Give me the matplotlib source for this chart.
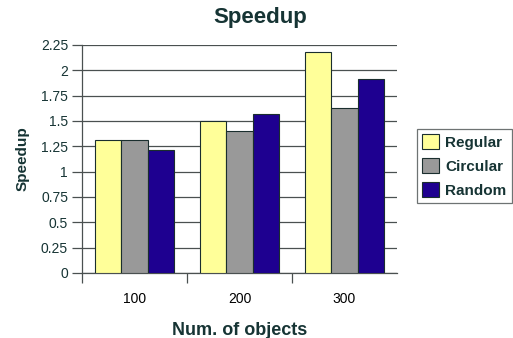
import matplotlib.pyplot as plt
import numpy as np
from matplotlib.ticker import FuncFormatter

categories = ['100', '200', '300']
regular = [1.31, 1.50, 2.18]
circular = [1.31, 1.40, 1.63]
random_ = [1.21, 1.57, 1.91]
series_names = ['Regular', 'Circular', 'Random']
colors = ['#ffff99', '#999999', '#1e0090']

plt.rcParams['font.family'] = ['Liberation Sans', 'DejaVu Sans']
txt = '#163434'
line = '#4a5050'

fig = plt.figure(figsize=(5.13, 3.38), dpi=100)
ax = fig.add_axes([82/513, 1-273/338, 315/513, 228/338])

x = np.arange(len(categories))
w = 0.25
for i, (vals, name, c) in enumerate(zip([regular, circular, random_], series_names, colors)):
    ax.bar(x + (i - 1) * w, vals, w, color=c, edgecolor='#1a2e2e', linewidth=0.8,
           label=name, zorder=3)

ax.set_xlim(-0.5, 2.5)
ax.set_ylim(0, 2.25)
ax.set_yticks(np.arange(0, 2.26, 0.25))
ax.yaxis.set_major_formatter(FuncFormatter(lambda v, p: '%g' % v))
ax.grid(axis='y', color=line, linewidth=0.9, zorder=0)

ax.set_xticks([-0.5, 0.5, 1.5])
ax.set_xticklabels([])
ax.set_xticks(x, minor=True)
ax.set_xticklabels(categories, minor=True)
ax.tick_params(axis='x', which='minor', length=0, pad=14)
ax.tick_params(axis='both', which='major', length=7, color=line, width=0.9)
ax.tick_params(labelsize=10, labelcolor=txt)
ax.tick_params(axis='y', pad=3)

for s in ['top', 'right']:
    ax.spines[s].set_visible(False)
for s in ['left', 'bottom']:
    ax.spines[s].set_color(line)
    ax.spines[s].set_linewidth(0.9)

ax.set_xlabel('Num. of objects', fontsize=13, fontweight='bold', color=txt, labelpad=11)
ax.set_ylabel('Speedup', fontsize=11, fontweight='bold', color=txt, labelpad=8)
fig.text(260/513, 1-17/338, 'Speedup', fontsize=16, fontweight='bold', color=txt,
         ha='center', va='center')

leg = fig.legend(loc='upper left', bbox_to_anchor=(417/513, 1-129/338),
                 prop={'weight': 'bold', 'size': 11}, frameon=True,
                 fancybox=False, handlelength=1.1, handleheight=1.1,
                 handletextpad=0.4, labelspacing=0.55, borderpad=0.35,
                 borderaxespad=0)
leg.get_frame().set_edgecolor(line)
leg.get_frame().set_linewidth(0.9)
for t in leg.get_texts():
    t.set_color(txt)

fig.savefig('out.png', dpi=100)
